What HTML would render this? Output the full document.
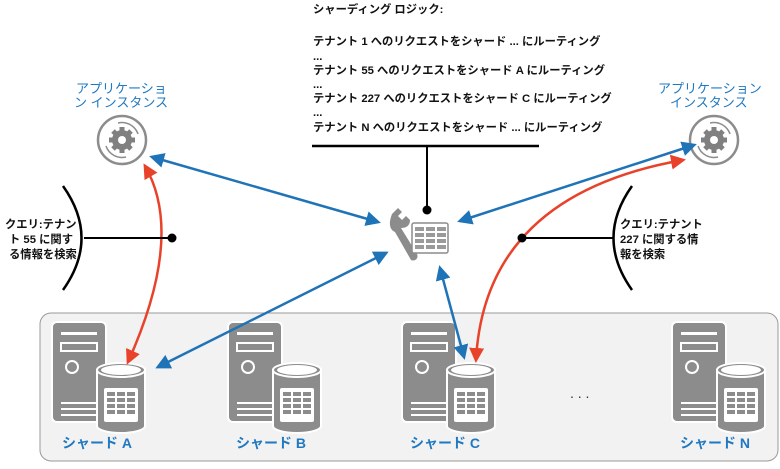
<!DOCTYPE html>
<html><head><meta charset="utf-8"><style>
body{margin:0;background:#fff;width:780px;height:464px;overflow:hidden}
text{font-family:"Liberation Sans","Noto Sans CJK JP",sans-serif}
.b{font-size:11.3px;font-weight:bold;fill:#111}
.bl{font-size:13px;fill:#1f78c1}
.sh{font-size:14px;font-weight:bold;fill:#1f78c1}
</style></head><body>
<svg width="780" height="464" viewBox="0 0 780 464" xmlns="http://www.w3.org/2000/svg">
<defs>
<marker id="ab" viewBox="0 0 10 10" refX="8" refY="5" markerWidth="6" markerHeight="6" orient="auto-start-reverse"><path d="M0,0L10,5L0,10z" fill="#1f73b7"/></marker>
<marker id="ar" viewBox="0 0 10 10" refX="8" refY="5" markerWidth="6" markerHeight="6" orient="auto-start-reverse"><path d="M0,0L10,5L0,10z" fill="#e8432a"/></marker>
<g id="srv">
<rect x="0" y="0" width="54" height="100" rx="5" fill="#8c8c8c" stroke="#fff" stroke-width="2"/>
<rect x="9" y="10" width="36" height="3" fill="#fff"/>
<rect x="9" y="21" width="36" height="8" fill="none" stroke="#fff" stroke-width="2"/>
<circle cx="20" cy="45" r="6" fill="none" stroke="#fff" stroke-width="2"/>
<rect x="9" y="80" width="36" height="2" fill="#fff"/><rect x="9" y="86" width="36" height="2" fill="#fff"/><rect x="9" y="92" width="36" height="2" fill="#fff"/>
<path d="M45,48 v56 a24,7 0 0 0 48,0 v-56 z" fill="#8c8c8c" stroke="#fff" stroke-width="2"/>
<ellipse cx="69" cy="48" rx="24" ry="7" fill="#8c8c8c" stroke="#fff" stroke-width="2"/>
<ellipse cx="69" cy="48" rx="20" ry="5" fill="#fff"/>
<rect x="52" y="66" width="34" height="34" rx="2" fill="#fff"/>
<g fill="#8c8c8c"><rect x="55" y="70" width="8" height="4"/><rect x="65" y="70" width="8" height="4"/><rect x="75" y="70" width="8" height="4"/>
<rect x="55" y="76" width="8" height="4"/><rect x="65" y="76" width="8" height="4"/><rect x="75" y="76" width="8" height="4"/>
<rect x="55" y="82" width="8" height="4"/><rect x="65" y="82" width="8" height="4"/><rect x="75" y="82" width="8" height="4"/>
<rect x="55" y="88" width="8" height="4"/><rect x="65" y="88" width="8" height="4"/><rect x="75" y="88" width="8" height="4"/></g>
</g>
<g id="gear">
<circle r="24" fill="none" stroke="#8c8c8c" stroke-width="2.5"/>
<path d="M-4,-17 A17,17 0 0 1 16,-6" fill="none" stroke="#8c8c8c" stroke-width="1.5"/>
<path d="M4,17 A17,17 0 0 1 -16,6" fill="none" stroke="#8c8c8c" stroke-width="1.5"/>
<circle r="10" fill="#808080"/>
<g stroke="#808080" stroke-width="5"><line x1="0" y1="-13" x2="0" y2="13"/><line x1="-13" y1="0" x2="13" y2="0"/><line x1="-9" y1="-9" x2="9" y2="9"/><line x1="-9" y1="9" x2="9" y2="-9"/></g>
<circle r="4" fill="#fff"/>
</g>
</defs>
<rect x="40" y="313" width="738" height="148" rx="11" fill="#f2f2f2" stroke="#999" stroke-width="1"/>
<use href="#srv" x="52" y="322"/>
<use href="#srv" x="228" y="322"/>
<use href="#srv" x="402" y="322"/>
<use href="#srv" x="672" y="322"/>
<text class="sh" x="62" y="448">シャード A</text>
<text class="sh" x="236" y="448">シャード B</text>
<text class="sh" x="410" y="448">シャード C</text>
<text class="sh" x="680" y="448">シャード N</text>
<text x="570" y="398" font-size="14" fill="#333">. . .</text>

<text class="b" x="313" y="13">シャーディング ロジック:</text>
<text class="b" x="313" y="45">テナント 1 へのリクエストをシャード ... にルーティング</text>
<text class="b" x="313" y="60">...</text>
<text class="b" x="313" y="74">テナント 55 へのリクエストをシャード A にルーティング</text>
<text class="b" x="313" y="88">...</text>
<text class="b" x="313" y="102">テナント 227 へのリクエストをシャード C にルーティング</text>
<text class="b" x="313" y="116">...</text>
<text class="b" x="313" y="131">テナント N へのリクエストをシャード ... にルーティング</text>
<line x1="312" y1="146" x2="539" y2="146" stroke="#000" stroke-width="2.5"/>
<line x1="427" y1="146" x2="427" y2="210" stroke="#000" stroke-width="2"/>
<circle cx="427" cy="210" r="4.5" fill="#000"/>

<text class="bl" x="76" y="93">アプリケーショ</text>
<text class="bl" x="74" y="107">ン インスタンス</text>
<text class="bl" x="658" y="93">アプリケーション</text>
<text class="bl" x="670" y="107">インスタンス</text>
<use href="#gear" x="122" y="140"/>
<use href="#gear" x="714" y="140"/>

<path d="M392,214 l6,-6 l4,4 l-4,4 l4,4 l4,-4 l4,4 c0,6 -4,8 -9,8 l16,26 c2,4 -2,8 -6,6 l-16,-28 c-5,-2 -7,-8 -3,-18z" fill="#8c8c8c"/>
<rect x="412" y="223" width="36" height="30" rx="2" fill="#fff" stroke="#8c8c8c" stroke-width="1.5"/>
<g fill="#9a9a9a"><rect x="415" y="227" width="9" height="4"/><rect x="426" y="227" width="9" height="4"/><rect x="437" y="227" width="9" height="4"/>
<rect x="415" y="233" width="9" height="4"/><rect x="426" y="233" width="9" height="4"/><rect x="437" y="233" width="9" height="4"/>
<rect x="415" y="239" width="9" height="4"/><rect x="426" y="239" width="9" height="4"/><rect x="437" y="239" width="9" height="4"/>
<rect x="415" y="245" width="9" height="4"/><rect x="426" y="245" width="9" height="4"/><rect x="437" y="245" width="9" height="4"/></g>

<g stroke="#1f73b7" stroke-width="2.5" fill="none" marker-start="url(#ab)" marker-end="url(#ab)">
<line x1="152" y1="157" x2="378" y2="222"/>
<line x1="460" y1="221" x2="694" y2="145"/>
<line x1="386" y1="253" x2="158" y2="367"/>
<line x1="440" y1="268" x2="464" y2="357"/>
</g>
<g stroke="#e8432a" stroke-width="2.5" fill="none" marker-start="url(#ar)" marker-end="url(#ar)">
<path d="M145,166 Q185,235 128,362"/>
<path d="M683,160 Q485,195 476,360"/>
</g>

<path d="M63,186 Q100,238 63,290" fill="none" stroke="#000" stroke-width="2.5"/>
<line x1="84" y1="238" x2="172" y2="238" stroke="#000" stroke-width="2"/>
<circle cx="172" cy="238" r="4.5" fill="#000"/>
<text class="b" x="5" y="228">クエリ:テナン</text>
<text class="b" x="9" y="243">ト 55 に関す</text>
<text class="b" x="9" y="258">る情報を検索</text>

<path d="M632,186 Q595,238 632,290" fill="none" stroke="#000" stroke-width="2.5"/>
<line x1="614" y1="238" x2="522" y2="238" stroke="#000" stroke-width="2"/>
<circle cx="522" cy="238" r="4.5" fill="#000"/>
<text class="b" x="620" y="228">クエリ:テナント</text>
<text class="b" x="620" y="243">227 に関する情</text>
<text class="b" x="620" y="258">報を検索</text>
</svg>
</body></html>
